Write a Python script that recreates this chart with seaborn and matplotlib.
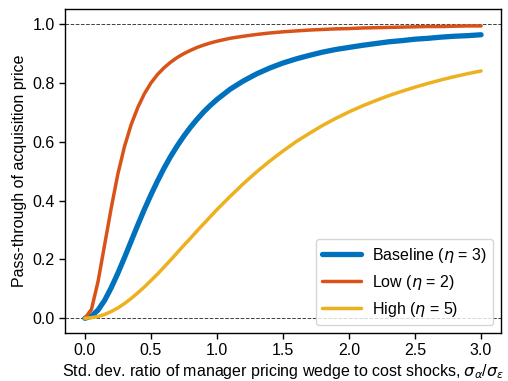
import numpy as np
import pandas as pd
import matplotlib
matplotlib.use("Agg")
import matplotlib.pyplot as plt
import seaborn as sns

# Std. dev. ratio sigma_alpha / sigma_epsilon
ratio = [0.0, 0.05, 0.1, 0.15, 0.2, 0.25, 0.3, 0.35, 0.4, 0.45, 0.5, 0.55, 0.6,
         0.65, 0.7, 0.75, 0.8, 0.85, 0.9, 0.95, 1.0, 1.1, 1.2, 1.3, 1.4, 1.5,
         1.6, 1.7, 1.8, 1.9, 2.0, 2.1, 2.2, 2.3, 2.4, 2.5, 2.6, 2.7, 2.8, 2.9, 3.0]

# Pass-through of acquisition price for each elasticity
baseline = [0.0, 0.007, 0.028, 0.061, 0.104, 0.153, 0.206, 0.261, 0.316, 0.369,
            0.419, 0.466, 0.510, 0.550, 0.586, 0.619, 0.649, 0.676, 0.701, 0.723,
            0.743, 0.778, 0.806, 0.830, 0.850, 0.867, 0.881, 0.893, 0.904, 0.913,
            0.920, 0.927, 0.933, 0.939, 0.943, 0.948, 0.951, 0.955, 0.958, 0.960,
            0.963]
low = [0.0, 0.030, 0.125, 0.250, 0.375, 0.490, 0.583, 0.657, 0.715, 0.762,
       0.799, 0.828, 0.851, 0.870, 0.886, 0.899, 0.910, 0.920, 0.928, 0.935,
       0.941, 0.951, 0.958, 0.964, 0.969, 0.973, 0.976, 0.979, 0.981, 0.983,
       0.984, 0.986, 0.987, 0.988, 0.989, 0.990, 0.991, 0.991, 0.992, 0.993,
       0.993]
high = [0.0, 0.002, 0.006, 0.013, 0.023, 0.035, 0.050, 0.067, 0.086, 0.106,
        0.128, 0.150, 0.174, 0.198, 0.223, 0.248, 0.272, 0.297, 0.321, 0.345,
        0.369, 0.414, 0.457, 0.497, 0.534, 0.568, 0.600, 0.628, 0.655, 0.679,
        0.701, 0.721, 0.739, 0.756, 0.771, 0.785, 0.798, 0.810, 0.821, 0.831,
        0.840]

labels = [r"Baseline ($\eta$ = 3)", r"Low ($\eta$ = 2)", r"High ($\eta$ = 5)"]
colors = ["#0072BD", "#D95319", "#EDB120"]
widths = [3.8, 2.5, 2.5]

sns.set_style("ticks")
plt.rcParams["font.family"] = ["Liberation Sans", "DejaVu Sans"]
plt.rcParams["mathtext.fontset"] = "custom"
plt.rcParams["mathtext.rm"] = "Liberation Sans"
plt.rcParams["mathtext.it"] = "DejaVu Sans:italic"
plt.rcParams["mathtext.bf"] = "Liberation Sans:bold"
plt.rcParams["mathtext.sf"] = "Liberation Sans"
for key in ["text.color", "axes.labelcolor", "xtick.color", "ytick.color"]:
    plt.rcParams[key] = "black"

FS = 11.5

fig = plt.figure(figsize=(5.08, 3.81), dpi=100)
ax = fig.add_axes([0.128, 0.126, 0.858, 0.850])

for series, label, color, lw in zip([baseline, low, high], labels, colors, widths):
    df = pd.DataFrame({"ratio": ratio, "pass_through": series})
    sns.lineplot(data=df, x="ratio", y="pass_through", ax=ax, color=color,
                 linewidth=lw, label=label)

ax.axhline(1.0, color="0.25", linestyle="--", linewidth=0.7, zorder=0)
ax.axhline(0.0, color="0.25", linestyle="--", linewidth=0.7, zorder=0)

ax.set_xlim(-0.15, 3.15)
ax.set_ylim(-0.05, 1.05)
ax.set_xticks([0.0, 0.5, 1.0, 1.5, 2.0, 2.5, 3.0])
ax.set_yticks([0.0, 0.2, 0.4, 0.6, 0.8, 1.0])
ax.xaxis.set_major_formatter(matplotlib.ticker.FormatStrFormatter("%.1f"))
ax.yaxis.set_major_formatter(matplotlib.ticker.FormatStrFormatter("%.1f"))
ax.tick_params(labelsize=FS, length=4, width=1, color="black", labelcolor="black")
for s in ax.spines.values():
    s.set_visible(True)
    s.set_color("black")
    s.set_linewidth(1.0)

ax.set_xlabel(r"Std. dev. ratio of manager pricing wedge to cost shocks, $\sigma_\alpha/\sigma_\varepsilon$",
              fontsize=FS, labelpad=2.5, color="black")
ax.set_ylabel("Pass-through of acquisition price", fontsize=FS, color="black")

leg = ax.legend(loc="lower right", fontsize=FS, frameon=True, handlelength=2.4,
                handletextpad=0.7, borderaxespad=0.5)
leg.get_frame().set_edgecolor("0.8")
for t in leg.get_texts():
    t.set_color("black")

fig.savefig("out.png", dpi=100)
